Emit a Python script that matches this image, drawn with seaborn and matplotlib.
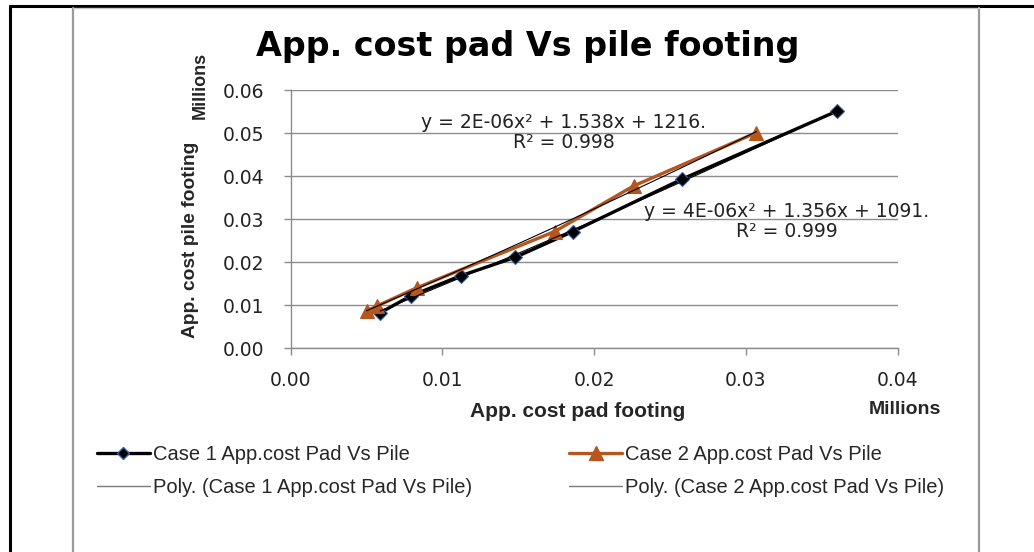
import numpy as np
import pandas as pd
import matplotlib
matplotlib.use("Agg")
import matplotlib.pyplot as plt
import seaborn as sns
from matplotlib.lines import Line2D

# Approximate costs (in millions) for each case
case1_pad = [0.0059, 0.0079, 0.0112, 0.0148, 0.0186, 0.0258, 0.0360]
case1_pile = [0.0083, 0.0122, 0.0169, 0.0212, 0.0272, 0.0394, 0.0552]
case2_pad = [0.0050, 0.0057, 0.0083, 0.0174, 0.0226, 0.0307]
case2_pile = [0.0087, 0.0099, 0.0141, 0.0272, 0.0378, 0.0502]

x_ticks = [0.00, 0.01, 0.02, 0.03, 0.04]
y_ticks = [0.00, 0.01, 0.02, 0.03, 0.04, 0.05, 0.06]

label1 = "Case 1 App.cost Pad Vs Pile"
label2 = "Case 2 App.cost Pad Vs Pile"
eq1 = "y = 4E-06x\u00b2 + 1.356x + 1091.\nR\u00b2 = 0.999"
eq2 = "y = 2E-06x\u00b2 + 1.538x + 1216.\nR\u00b2 = 0.998"

df = pd.concat([
    pd.DataFrame({"pad": case1_pad, "pile": case1_pile, "case": label1}),
    pd.DataFrame({"pad": case2_pad, "pile": case2_pile, "case": label2}),
])

sns.set_theme(style="white")
plt.rcParams["font.family"] = ["DejaVu Sans"]

BROWN = "#B5561F"
fig = plt.figure(figsize=(10.34, 5.52), dpi=100)
ax = fig.add_axes([0.2811, 0.3687, 0.5870, 0.4674])

# Frame lines around the chart area
fig.add_artist(Line2D([0.0097, 1.0], [0.989, 0.989], color="black", lw=2.2))
fig.add_artist(Line2D([0.0097, 0.0097], [0.0, 0.989], color="black", lw=2.2))
fig.add_artist(Line2D([0.0706, 0.0706], [0.0, 0.986], color="#9a9a9a", lw=1.6))
fig.add_artist(Line2D([0.9468, 0.9468], [0.0, 0.986], color="#9a9a9a", lw=1.6))
fig.add_artist(Line2D([0.0706, 0.9468], [0.986, 0.986], color="#c8c8c8", lw=1.0))

sns.lineplot(data=df, x="pad", y="pile", hue="case", style="case",
             palette={label1: "black", label2: BROWN},
             markers={label1: "D", label2: "^"}, dashes=False,
             markersize=7, linewidth=2.4, sort=False, legend=False,
             ax=ax, zorder=3)
for ln, edge in zip(ax.lines, ["#3a5fa0", BROWN]):
    ln.set_markeredgecolor(edge)
    ln.set_markeredgewidth(0.8)
ax.lines[1].set_markersize(10.5)
ax.lines[0].set_markersize(7)

# Second-order polynomial trendlines
for xs, ys in [(case1_pad, case1_pile), (case2_pad, case2_pile)]:
    coef = np.polyfit(xs, ys, 2)
    xx = np.linspace(min(xs), max(xs), 100)
    ax.plot(xx, np.polyval(coef, xx), color="black", lw=0.8, zorder=4)

ax.set_xlim(0, 0.04)
ax.set_ylim(0, 0.06)
ax.set_xticks(x_ticks)
ax.set_yticks(y_ticks)
ax.set_xticklabels([f"{v:.2f}" for v in x_ticks], fontsize=13.5, color="#222222")
ax.set_yticklabels([f"{v:.2f}" for v in y_ticks], fontsize=13.5, color="#222222")
ax.tick_params(axis="both", length=5, width=1, color="#8c8c8c", direction="out",
               bottom=True, left=True)
ax.tick_params(axis="y", pad=14)
ax.tick_params(axis="x", pad=11)
ax.grid(axis="y", color="#8c8c8c", lw=1)
ax.grid(axis="x", visible=False)
for side in ["top", "right"]:
    ax.spines[side].set_visible(False)
for side in ["left", "bottom"]:
    ax.spines[side].set_color("#8c8c8c")
    ax.spines[side].set_linewidth(1)
ax.set_xlabel("")
ax.set_ylabel("")

sans = ["Liberation Sans", "DejaVu Sans"]

fig.text(0.51, 0.915, "App. cost pad Vs pile footing", ha="center", va="center",
         fontsize=24, fontweight="bold", color="black")
fig.text(0.559, 0.255, "App. cost pad footing", ha="center", va="center",
         fontsize=15, fontweight="bold", family=sans)
fig.text(0.875, 0.258, "Millions", ha="center", va="center",
         fontsize=14, fontweight="bold", family=sans)
fig.text(0.184, 0.565, "App. cost pile footing", ha="center", va="center",
         rotation=90, fontsize=13.8, fontweight="bold", family=sans)
fig.text(0.194, 0.845, "Millions", ha="center", va="center",
         rotation=90, fontsize=13, fontweight="bold", family=sans)

ax.text(0.0180, 0.0503, eq2, ha="center", va="center", fontsize=13.5,
        linespacing=1.05, color="#222222")
ax.text(0.0327, 0.0295, eq1, ha="center", va="center", fontsize=13.5,
        linespacing=1.05, color="#222222")

handles = [
    Line2D([], [], color="black", lw=2.4, marker="D", markersize=6.5,
           markeredgecolor="#3a5fa0"),
    Line2D([], [], color="#7a7a7a", lw=1),
    Line2D([], [], color=BROWN, lw=2.4, marker="^", markersize=10),
    Line2D([], [], color="#7a7a7a", lw=1),
]
labels = [label1, "Poly. (Case 1 App.cost Pad Vs Pile)",
          label2, "Poly. (Case 2 App.cost Pad Vs Pile)"]
fig.legend(handles, labels, ncol=2, loc="upper left",
           bbox_to_anchor=(0.094, 0.194), frameon=False,
           prop={"family": sans, "size": 14.5}, handlelength=2.6,
           handletextpad=0.15, columnspacing=4.85, labelspacing=0.72,
           borderaxespad=0, borderpad=0)

fig.savefig("out.png", dpi=100)
